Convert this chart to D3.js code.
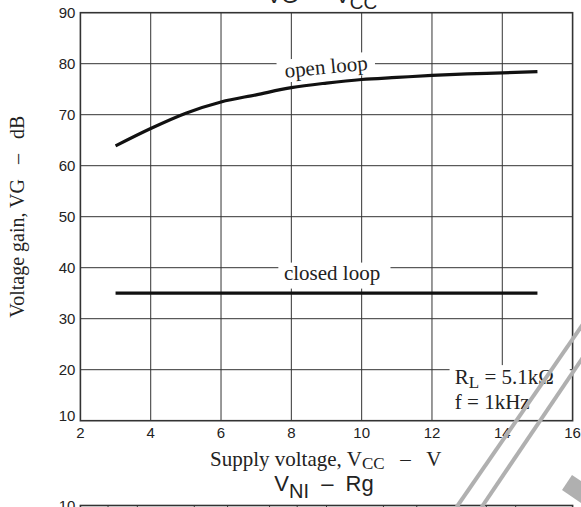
<!DOCTYPE html>
<html>
<head>
<meta charset="utf-8">
<script src="https://cdn.jsdelivr.net/npm/d3@7"></script>
<style>
  body { margin: 0; background: #fff; }
  svg { display: block; }
  .serif { font-family: "Liberation Serif", "Times New Roman", serif; fill: #222; }
  .sans { font-family: "Liberation Sans", Arial, sans-serif; fill: #222; }
</style>
</head>
<body>
<div id="chart"></div>
<script>
// values
const xTicks = [2, 4, 6, 8, 10, 12, 14, 16];
const yTicks = [10, 20, 30, 40, 50, 60, 70, 80, 90];
const supplyV = [3, 4, 5, 6, 7, 8, 9, 10, 11, 12, 13, 14, 15];
const openLoop = [63.9, 67.3, 70.3, 72.5, 73.9, 75.3, 76.2, 76.9, 77.3, 77.7, 78.0, 78.2, 78.45];
const closedLoop = [35, 35, 35, 35, 35, 35, 35, 35, 35, 35, 35, 35, 35];
// next chart (VNI - Rg), only its top edge shows
const rgGrid = [0.07, 0.1, 0.2, 0.3, 0.5, 0.7, 1, 2, 3, 5, 7, 10];

const W = 581, H = 507;
const svg = d3.select("#chart").append("svg")
    .attr("width", W).attr("height", H);

const x = d3.scaleLinear().domain([2, 16]).range([80.4, 572.6]);
const y = d3.scaleLinear().domain([10, 90]).range([420.7, 12.7]);

// grid
svg.append("g").selectAll("line").data(xTicks.slice(1, -1)).enter().append("line")
    .attr("x1", d => x(d)).attr("x2", d => x(d))
    .attr("y1", y(90)).attr("y2", y(10))
    .attr("stroke", "#333").attr("stroke-width", 1);
svg.append("g").selectAll("line").data(yTicks.slice(1, -1)).enter().append("line")
    .attr("y1", d => y(d)).attr("y2", d => y(d))
    .attr("x1", x(2)).attr("x2", x(16))
    .attr("stroke", "#333").attr("stroke-width", 1);

// tick labels
svg.append("g").selectAll("text").data(yTicks).enter().append("text")
    .attr("class", "sans").attr("font-size", 15)
    .attr("x", x(2) - 5)
    .attr("y", d => d == 10 ? y(d) - 5 : y(d))
    .attr("dy", "0.35em").attr("text-anchor", "end")
    .text(d => d);
svg.append("g").selectAll("text").data(xTicks).enter().append("text")
    .attr("class", "sans").attr("font-size", 15)
    .attr("x", d => x(d)).attr("y", y(10) + 17)
    .attr("text-anchor", "middle")
    .text(d => d);

// label boxes (hide the grid behind the text)
let openLbl = svg.append("g")
    .attr("transform", "translate(" + x(8.99) + "," + y(79.2) + ") rotate(-5.4)");
openLbl.append("rect").attr("x", -49).attr("y", -12).attr("width", 98).attr("height", 23).attr("fill", "#fff");
openLbl.append("text").attr("class", "serif").attr("font-size", 21)
    .attr("text-anchor", "middle").attr("y", 6).text("open loop");

svg.append("rect").attr("x", x(7.63)).attr("y", y(41))
    .attr("width", x(10.82) - x(7.63)).attr("height", y(35.9) - y(41)).attr("fill", "#fff");
svg.append("text").attr("class", "serif").attr("font-size", 21)
    .attr("x", x(7.79)).attr("y", y(37.5)).text("closed loop");

svg.append("rect").attr("x", x(12.5)).attr("y", y(20.9))
    .attr("width", x(15.92) - x(12.5)).attr("height", y(10) - y(20.9)).attr("fill", "#fff");
let rl = svg.append("text").attr("class", "serif").attr("font-size", 21)
    .attr("x", x(12.65)).attr("y", y(17.1));
rl.append("tspan").text("R");
rl.append("tspan").attr("font-size", 17).attr("dy", 4).text("L");
rl.append("tspan").attr("dy", -4).text(" = 5.1k\u03A9");
svg.append("text").attr("class", "serif").attr("font-size", 21)
    .attr("x", x(12.65)).attr("y", y(12.2)).text("f = 1kHz");

// frame
svg.append("rect").attr("x", x(2)).attr("y", y(90))
    .attr("width", x(16) - x(2)).attr("height", y(10) - y(90))
    .attr("fill", "none").attr("stroke", "#333").attr("stroke-width", 1.6);

// curves
let line = d3.line().x(d => x(d[0])).y(d => y(d[1])).curve(d3.curveMonotoneX);
svg.append("path").datum(d3.zip(supplyV, openLoop))
    .attr("d", line).attr("fill", "none").attr("stroke", "#111").attr("stroke-width", 3.2);
svg.append("path").datum(d3.zip(supplyV, closedLoop))
    .attr("d", line).attr("fill", "none").attr("stroke", "#111").attr("stroke-width", 3.2);

// axis titles
let xl = svg.append("text").attr("class", "serif").attr("font-size", 21)
    .attr("x", 210).attr("y", 466).attr("xml:space", "preserve");
xl.append("tspan").text("Supply voltage, V");
xl.append("tspan").attr("font-size", 17).attr("dy", 3).text("CC");
xl.append("tspan").attr("dy", -3).text("   \u2013   V");

svg.append("text").attr("class", "serif").attr("font-size", 20)
    .attr("transform", "translate(24," + ((y(10) + y(90)) / 2) + ") rotate(-90)")
    .attr("text-anchor", "middle").attr("xml:space", "preserve")
    .text("Voltage gain, VG   \u2013   dB");

// chart title (clipped at top)
let t1 = svg.append("text").attr("class", "sans").attr("font-size", 22)
    .attr("x", 322).attr("y", 3).attr("text-anchor", "middle").attr("xml:space", "preserve");
t1.append("tspan").text("VG  \u2013  V");
t1.append("tspan").attr("font-size", 19).attr("dy", 6).text("CC");

// next chart
let t2 = svg.append("text").attr("class", "sans").attr("font-size", 22)
    .attr("x", 324).attr("y", 491).attr("text-anchor", "middle").attr("xml:space", "preserve");
t2.append("tspan").text("V");
t2.append("tspan").attr("font-size", 20).attr("dy", 7).text("NI");
t2.append("tspan").attr("dy", -7).text("  \u2013  Rg");

let xr = d3.scaleLog().domain([0.05, 20]).range([80.4, 572.6]);
svg.append("g").selectAll("line").data(rgGrid).enter().append("line")
    .attr("x1", d => xr(d)).attr("x2", d => xr(d))
    .attr("y1", 505.5).attr("y2", 520)
    .attr("stroke", "#333").attr("stroke-width", 1);
svg.append("rect").attr("x", xr(0.05)).attr("y", 505.5)
    .attr("width", xr(20) - xr(0.05)).attr("height", 100)
    .attr("fill", "none").attr("stroke", "#333").attr("stroke-width", 1.6);
svg.append("text").attr("class", "sans").attr("font-size", 15)
    .attr("x", x(2) - 5).attr("y", 505.5).attr("dy", "0.35em")
    .attr("text-anchor", "end").text("10");

// grey watermark stripes
svg.append("line").attr("x1", 456.7).attr("y1", 507).attr("x2", 590).attr("y2", 314)
    .attr("stroke", "#b0b0b0").attr("stroke-width", 4);
svg.append("line").attr("x1", 481.7).attr("y1", 507).attr("x2", 590).attr("y2", 347)
    .attr("stroke", "#b0b0b0").attr("stroke-width", 4);
svg.append("polygon").attr("points", "562,490 572,475 581,481 581,503")
    .attr("fill", "#b0b0b0");
</script>
</body>
</html>
